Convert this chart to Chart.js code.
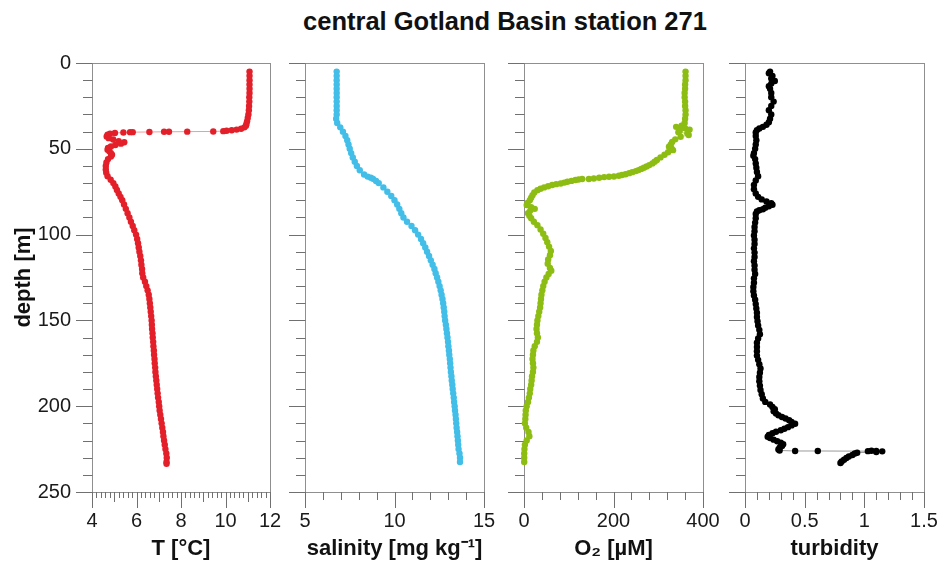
<!DOCTYPE html>
<html>
<head>
<meta charset="utf-8">
<script src="https://cdn.jsdelivr.net/npm/chart.js@4.4.1/dist/chart.umd.min.js"></script>
<style>
  html, body { margin: 0; padding: 0; background: #fff; overflow: hidden; }
  #wrap { position: relative; width: 940px; height: 562px; }
  #wrap canvas { position: absolute; top: 0; }
  #title { position: absolute; left: 205px; width: 600px; top: 7px; text-align: center; white-space: nowrap;
           font: bold 25.5px "Liberation Sans", Arial, sans-serif; color: #111; }
</style>
</head>
<body>
<div id="wrap">
  <div id="title">central Gotland Basin station 271</div>
  <canvas id="cTemp" width="286" height="562" style="left:0px"></canvas>
  <canvas id="cSal" width="214" height="562" style="left:286px"></canvas>
  <canvas id="cOxy" width="222" height="562" style="left:500px"></canvas>
  <canvas id="cTurb" width="218" height="562" style="left:722px"></canvas>
</div>
<script>
// depth profiles (depth in m)
const tempDepth = [5, 7.5, 10, 12.5, 15, 17.5, 20, 22.5, 25, 27.5, 30, 32, 34, 35.5, 36.5, 37.5, 38.3, 38.8, 39.2, 39.5,
  39.7, 39.9, 40.0, 40.1, 40.1, 40.2, 40.3, 40.3, 40.5, 40.8, 41.2, 41.8, 42.8, 43.8, 44.6, 45.5, 46.2, 47, 47.8, 48.6,
  49.5, 50.5, 51.5, 52.5, 53.5, 54.5, 56, 58, 60, 62, 64, 66, 68, 70, 72, 74, 76, 78, 80, 82.5,
  85, 87.5, 90, 92.5, 95, 97.5, 100, 102.5, 105, 107.5, 110, 112.5, 115, 117.5, 120, 122.5, 125, 127.5, 130, 132.5,
  135, 137.5, 140, 142.5, 145, 147.5, 150, 152.5, 155, 157.5, 160, 162.5, 165, 167.5, 170, 172.5, 175, 177.5, 180, 182.5,
  185, 187.5, 190, 192.5, 195, 197.5, 200, 202.5, 205, 207.5, 210, 212.5, 215, 217.5, 220, 222.5, 225, 227.5, 230, 232.5, 233.5];
const tempValue = [11.08, 11.08, 11.08, 11.08, 11.08, 11.08, 11.07, 11.07, 11.06, 11.05, 11.03, 11.0, 10.97, 10.94, 10.92, 10.85, 10.7, 10.5, 10.28, 10.05,
  9.9, 9.45, 8.28, 7.46, 7.24, 6.58, 5.83, 5.71, 5.41, 5.03, 4.81, 4.7, 4.66, 4.75, 4.95, 5.2, 5.45, 5.3, 5.05, 4.85,
  4.72, 4.7, 4.78, 4.85, 4.9, 4.85, 4.72, 4.65, 4.62, 4.62, 4.64, 4.7, 4.84, 4.96, 5.05, 5.12, 5.2, 5.28, 5.36, 5.44,
  5.52, 5.6, 5.68, 5.75, 5.83, 5.9, 5.98, 6.03, 6.07, 6.1, 6.13, 6.17, 6.2, 6.22, 6.25, 6.26, 6.3, 6.38, 6.44, 6.5,
  6.55, 6.58, 6.6, 6.62, 6.64, 6.66, 6.68, 6.69, 6.7, 6.72, 6.73, 6.75, 6.76, 6.78, 6.79, 6.81, 6.82, 6.84, 6.85, 6.87,
  6.89, 6.91, 6.93, 6.95, 6.97, 7.0, 7.02, 7.04, 7.07, 7.1, 7.13, 7.16, 7.19, 7.21, 7.24, 7.27, 7.3, 7.34, 7.36, 7.35, 7.35];

const salDepth = [5, 7.5, 10, 12.5, 15, 17.5, 20, 22.5, 25, 27.5, 30, 32.5, 35, 37.5, 40, 42.5, 45, 47.5, 50, 52.5, 55,
  57.5, 60, 62.5, 65, 66.2, 66.8, 67.5, 68.8, 70, 72.5, 75, 77.5, 80, 82.5, 85, 87.5, 90, 92.5, 95, 97.5,
  100, 102.5, 105, 107.5, 110, 112.5, 115, 117.5, 120, 122.5, 125, 127.5, 130, 132.5, 135, 137.5, 140, 142.5, 145, 147.5,
  150, 152.5, 155, 157.5, 160, 162.5, 165, 167.5, 170, 172.5, 175, 177.5, 180, 182.5, 185, 187.5, 190, 192.5, 195, 197.5,
  200, 202.5, 205, 207.5, 210, 212.5, 215, 217.5, 220, 222.5, 225, 227.5, 230, 232.5];
const salValue = [6.77, 6.77, 6.77, 6.77, 6.77, 6.77, 6.77, 6.77, 6.77, 6.77, 6.77, 6.74, 6.8, 6.97, 7.12, 7.26, 7.36, 7.43, 7.5, 7.58, 7.67,
  7.78, 7.9, 8.06, 8.3, 8.5, 8.68, 8.8, 8.97, 9.12, 9.38, 9.6, 9.82, 10.0, 10.15, 10.27, 10.38, 10.5, 10.7, 10.95, 11.15,
  11.32, 11.48, 11.6, 11.72, 11.82, 11.93, 12.03, 12.13, 12.23, 12.3, 12.38, 12.45, 12.52, 12.58, 12.63, 12.68, 12.72, 12.75, 12.78, 12.8,
  12.83, 12.87, 12.9, 12.93, 12.96, 12.99, 13.01, 13.04, 13.06, 13.09, 13.11, 13.13, 13.15, 13.18, 13.2, 13.23, 13.25, 13.28, 13.31, 13.33,
  13.36, 13.38, 13.41, 13.43, 13.45, 13.47, 13.5, 13.52, 13.54, 13.56, 13.58, 13.63, 13.66, 13.66];

const oxyDepth = [5, 7.5, 10, 12.5, 15, 17.5, 20, 22.5, 25, 27.5, 30, 32.5, 35, 36.5, 37.2, 38, 38.8, 39.5, 40.3, 41,
  42, 43, 44.5, 46, 47.5, 48.8, 50, 50.8, 52, 53.5, 55, 56.5, 57.5, 58.5, 59.5, 60.3, 61, 61.7, 62.4, 63,
  63.6, 64.2, 64.8, 65.3, 65.7, 66.1, 66.3, 66.5, 66.9, 67.3, 67.6, 67.6, 67.9, 68.2, 68.7, 69.2, 69.7, 70.2, 70.6, 71.1,
  71.8, 72.5, 73.3, 74.1, 75.5, 77, 78.5, 80, 81.5, 82.8, 84, 85, 86, 87.5, 89, 90.5, 92.5, 94.5, 97, 99.5,
  102, 104.5, 107, 109.5, 112, 114.5, 117, 119.5, 121, 123, 125, 127.5, 130, 132.5, 135, 137.5, 140, 142.5, 145, 147.5,
  150, 152.5, 155, 157.5, 160, 162.5, 165, 167.5, 170, 172.5, 175, 177.5, 180, 182.5, 185, 187.5, 190, 192.5, 195, 197.5,
  200, 202.5, 205, 207.5, 210, 212.5, 215, 217.5, 220, 222.5, 225, 227.5, 230, 232.5];
const oxyValue = [361, 361, 361, 360, 360, 359, 359, 360, 360, 361, 361, 360, 359, 352, 340, 360, 370, 348, 345, 365,
  368, 350, 338, 331, 328, 324, 330, 333, 322, 314, 305, 297, 292, 287, 280, 274, 268, 262, 256, 250,
  242, 235, 227, 219, 212, 201, 190, 179, 168, 156, 145, 130, 122, 115, 106, 97, 90, 82, 72, 63,
  54, 45, 37, 30, 23, 19, 16, 13, 8, 6, 16, 24, 14, 9, 12, 16, 22, 30, 37, 43,
  48, 52, 56, 60, 58, 54, 53, 58, 61, 55, 50, 46, 43, 41, 39, 38, 37, 36, 34, 32,
  30, 29, 28, 29, 31, 29, 24, 21, 20, 19, 20, 21, 20, 18, 17, 16, 14, 13, 11, 9,
  6, 4, 3.5, 3, 2, 5, 10, 12, 6, 2, 1, 0.5, 0.5, 0.5];

const turbDepth = [5, 6, 7.5, 9, 10.5, 12, 13.5, 15, 17.5, 20, 22.5, 25, 27.5, 30, 32.5, 34.5, 36, 37.2, 38.2, 39.1,
  40.5, 42.5, 45, 47.5, 50, 52.5, 54, 56, 58.5, 61, 63.5, 66, 68.5, 71, 73.5, 76, 78, 79.5, 80.7, 81.7,
  82.6, 83.5, 84.3, 85.2, 85.8, 86.5, 88, 90.5, 93, 95.5, 98, 100.5, 103, 105.5, 108, 110.5, 113, 115.5, 118, 120.5,
  123, 125.5, 128, 130.5, 133, 135.5, 138, 140.5, 143, 145.5, 148, 150.5, 153, 155.5, 158, 160.5, 163, 165.5, 168, 170.5,
  173, 175.5, 178, 180.5, 183, 185.5, 188, 190.5, 193, 195.5, 197.5, 199, 200.5, 201.8, 203, 204.2, 205.3, 206.3, 207.2, 208.2,
  209.2, 210.2, 211.2, 212.2, 213.1, 214, 214.9, 215.8, 216.8, 217.8, 218.6, 219.5, 220.4, 221.3, 222.2, 223.2, 224.2, 225.2, 225.8, 226.1,
  226.1, 226.2, 226.0, 226.1, 226.3, 226.7, 227.1, 227.6, 228.4, 229.3, 230.2, 231.2, 232.2, 233.1];
const turbValue = [0.21, 0.2, 0.23, 0.22, 0.25, 0.22, 0.2, 0.21, 0.22, 0.22, 0.24, 0.22, 0.2, 0.22, 0.21, 0.2, 0.18, 0.15, 0.12, 0.1,
  0.09, 0.09, 0.095, 0.09, 0.085, 0.075, 0.07, 0.085, 0.09, 0.095, 0.1, 0.11, 0.09, 0.075, 0.075, 0.09, 0.11, 0.14, 0.18, 0.22,
  0.23, 0.2, 0.17, 0.15, 0.12, 0.1, 0.09, 0.09, 0.085, 0.08, 0.08, 0.075, 0.08, 0.08, 0.075, 0.08, 0.08, 0.075, 0.08, 0.08,
  0.085, 0.075, 0.075, 0.07, 0.07, 0.075, 0.085, 0.09, 0.095, 0.1, 0.1, 0.105, 0.11, 0.12, 0.125, 0.11, 0.1, 0.1, 0.1, 0.1,
  0.11, 0.12, 0.13, 0.125, 0.12, 0.12, 0.125, 0.13, 0.14, 0.15, 0.17, 0.21, 0.23, 0.25, 0.24, 0.26, 0.28, 0.31, 0.34, 0.37,
  0.39, 0.42, 0.39, 0.36, 0.33, 0.3, 0.26, 0.23, 0.2, 0.19, 0.21, 0.24, 0.27, 0.3, 0.32, 0.31, 0.29, 0.28, 0.29, 0.42,
  0.61, 1.03, 1.06, 1.1, 1.15, 1.1, 0.94, 0.92, 0.9, 0.87, 0.85, 0.83, 0.81, 0.8];

// axis labels
const tempTicks = [4, 6, 8, 10, 12];
const salTicks = [5, 10, 15];
const oxyTicks = [0, 200, 400];
const turbTicks = [0, 0.5, 1, 1.5];
const depthTicks = [0, 50, 100, 150, 200, 250];

const FONT = "'Liberation Sans', Arial, sans-serif";
const near = (a, b) => Math.abs(a - b) < 1e-6;
const isMultiple = (v, step) => near(v / step, Math.round(v / step));

// frame round the plot area plus outward tick marks of two or three lengths
const frameTicks = {
  id: 'frameTicks',
  beforeDatasetsDraw(chart, args, opts) {
    const { ctx, chartArea: a, scales: { x, y } } = chart;
    const left = Math.round(a.left), bottom = Math.round(a.bottom);
    ctx.save();
    ctx.lineWidth = 1;
    ctx.strokeStyle = '#8f8f8f';
    ctx.strokeRect(left + 0.5, Math.round(a.top) + 0.5, Math.round(a.right) - left, bottom - Math.round(a.top));
    ctx.strokeStyle = '#707070';
    ctx.beginPath();
    y.ticks.forEach(t => {
      const py = Math.round(y.getPixelForValue(t.value)) + 0.5;
      const len = isMultiple(t.value, 50) ? 16 : 9;
      ctx.moveTo(left - len, py);
      ctx.lineTo(left + 0.5, py);
    });
    x.ticks.forEach(t => {
      const px = Math.round(x.getPixelForValue(t.value)) + 0.5;
      let len = opts.minorLen;
      if (isMultiple(t.value, opts.major)) len = 16;
      else if (opts.mid && isMultiple(t.value, opts.mid)) len = 10;
      ctx.moveTo(px, bottom);
      ctx.lineTo(px, bottom + len);
    });
    ctx.stroke();
    ctx.restore();
  }
};

function makePanel(id, o) {
  const pts = o.values.map((v, i) => ({ x: v, y: o.depths[i] }));
  return new Chart(document.getElementById(id), {
    type: 'scatter',
    data: {
      datasets: [{
        data: pts,
        showLine: true,
        borderColor: o.line,
        borderWidth: 1,
        pointRadius: 3.2,
        pointHoverRadius: 3.2,
        pointBackgroundColor: o.color,
        pointBorderWidth: 0,
        clip: false
      }]
    },
    options: {
      responsive: false,
      animation: false,
      events: [],
      layout: { padding: { top: 63, right: o.padRight, left: 0, bottom: 0 } },
      plugins: {
        legend: { display: false },
        tooltip: { enabled: false },
        frameTicks: { major: o.major, mid: o.mid, minorLen: o.minorLen }
      },
      scales: {
        x: {
          type: 'linear',
          min: o.xMin,
          max: o.xMax,
          border: { display: false },
          grid: { display: false, drawTicks: false },
          ticks: {
            stepSize: o.xStep,
            autoSkip: false,
            maxRotation: 0,
            padding: 17,
            color: '#1a1a1a',
            font: { family: FONT, size: 20 },
            callback: v => o.xLabels.some(l => near(l, v)) ? String(v) : ''
          },
          title: { display: true, text: o.title, color: '#111', padding: 0,
                   font: { family: FONT, size: 22, weight: 'bold' } },
          // fixed height; the label overhang is already covered by the canvas margin
          afterFit: s => { s.height = 70; s.paddingLeft = 0; s.paddingRight = 0; }
        },
        y: {
          type: 'linear',
          min: 0,
          max: 250,
          reverse: true,
          border: { display: false },
          grid: { display: false, drawTicks: false },
          ticks: {
            stepSize: 10,
            autoSkip: false,
            display: o.showDepth,
            padding: 21,
            color: '#1a1a1a',
            font: { family: FONT, size: 20 },
            callback: v => depthTicks.includes(v) ? String(v) : ''
          },
          title: { display: o.showDepth, text: 'depth [m]', color: '#111', padding: { top: 11, bottom: 0 },
                   font: { family: FONT, size: 22, weight: 'bold' } },
          afterFit: s => { s.width = o.yWidth; s.paddingTop = 0; s.paddingBottom = 0; }
        }
      }
    },
    plugins: [frameTicks]
  });
}

makePanel('cTemp', {
  depths: tempDepth, values: tempValue, color: '#e3202a', line: '#f29a9d',
  xMin: 4, xMax: 12, xStep: 0.2, xLabels: tempTicks, major: 2, mid: 1, minorLen: 6,
  title: 'T [°C]', showDepth: true, yWidth: 92, padRight: 16
});
makePanel('cSal', {
  depths: salDepth, values: salValue, color: '#42bee8', line: '#9fdcf2',
  xMin: 5, xMax: 15, xStep: 1, xLabels: salTicks, major: 5, mid: 0, minorLen: 8,
  title: 'salinity [mg kg⁻¹]', showDepth: false, yWidth: 19, padRight: 16
});
makePanel('cOxy', {
  depths: oxyDepth, values: oxyValue, color: '#8dbd12', line: '#c2dc7a',
  xMin: 0, xMax: 400, xStep: 40, xLabels: oxyTicks, major: 200, mid: 0, minorLen: 8,
  title: 'O₂ [µM]', showDepth: false, yWidth: 24, padRight: 19
});
makePanel('cTurb', {
  depths: turbDepth, values: turbValue, color: '#000000', line: '#9a9a9a',
  xMin: 0, xMax: 1.5, xStep: 0.1, xLabels: turbTicks, major: 0.5, mid: 0, minorLen: 8,
  title: 'turbidity', showDepth: false, yWidth: 23, padRight: 16
});
</script>
</body>
</html>
